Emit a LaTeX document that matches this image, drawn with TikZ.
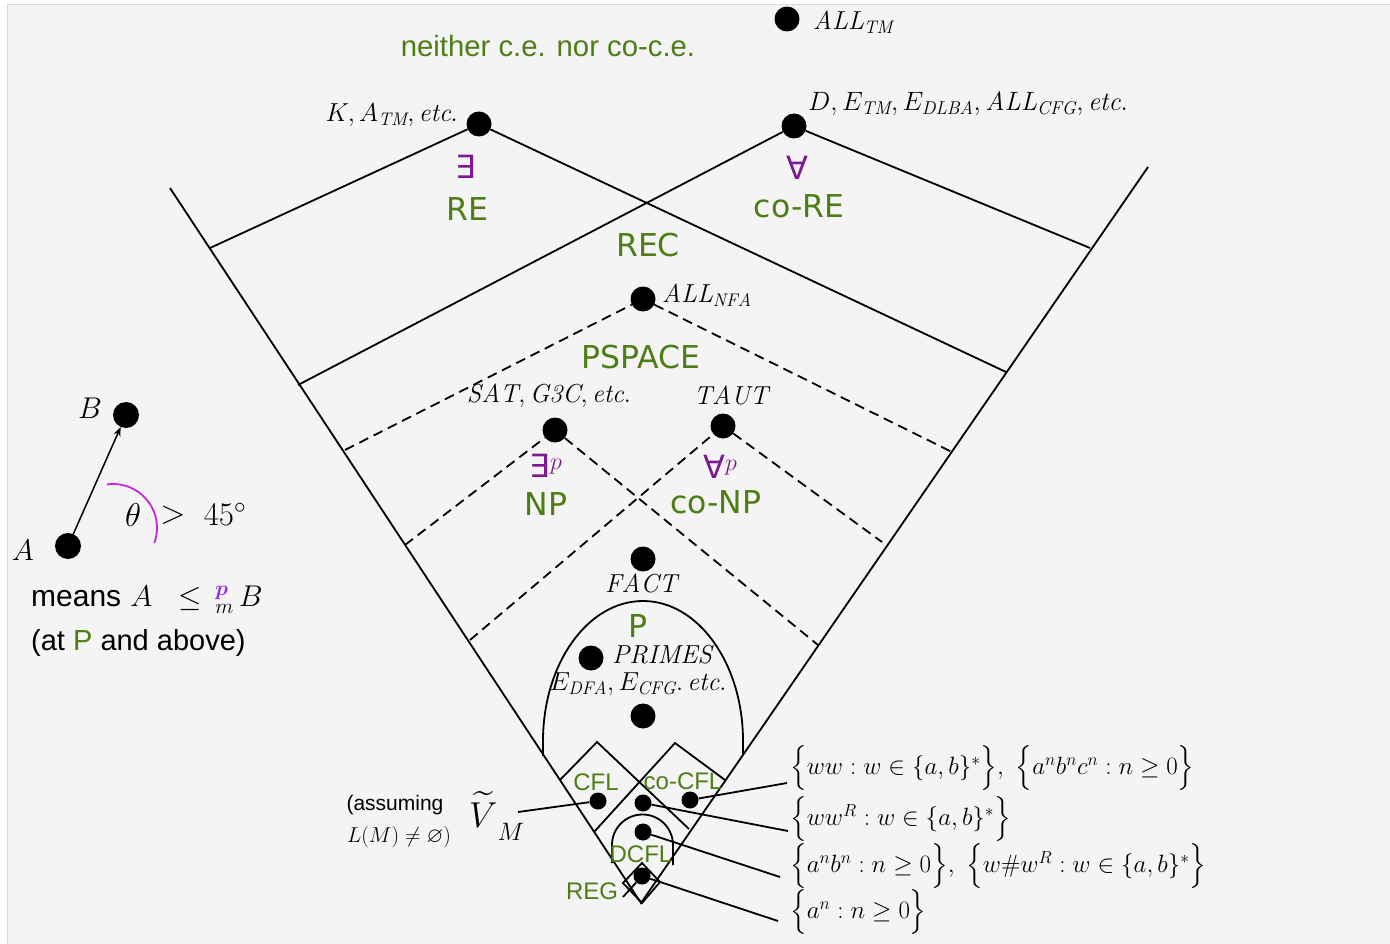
\RequirePackage{fix-cm}
\documentclass[tikz,border=0pt]{standalone}
\usepackage{amsmath}
\usepackage{amssymb}
\usepackage{fontspec}
\newfontfamily\arialf{Liberation Sans}
\newfontfamily\dejaf{DejaVu Sans}
\usetikzlibrary{arrows.meta}
\definecolor{grn}{RGB}{78,125,22}
\definecolor{prp}{RGB}{125,25,145}
\definecolor{mag}{RGB}{200,40,220}
\definecolor{pbl}{RGB}{150,40,240}
\definecolor{bgc}{RGB}{244,244,244}
\tikzset{
 bdot/.style={circle,fill=black,inner sep=0pt,minimum size=25pt},
 sdot/.style={circle,fill=black,inner sep=0pt,minimum size=17pt},
 cls/.style={inner sep=0pt,text=grn,font=\dejaf\fontsize{31.5}{31.5}\selectfont},
 sml/.style={inner sep=0pt,text=grn,font=\arialf\fontsize{24}{24}\selectfont},
 lab/.style={inner sep=0pt,font=\fontsize{26}{26}\selectfont},
 rlab/.style={inner sep=0pt,anchor=west,font=\fontsize{25}{25}\selectfont},
 qnt/.style={inner sep=0pt,text=prp,font=\dejaf\fontsize{32}{32}\selectfont},
 ln/.style={line width=1.8pt},
 dl/.style={ln,dash pattern=on 10pt off 6pt},
}
\begin{document}
\begin{tikzpicture}[x=1pt,y=-1pt]
\useasboundingbox (0,0) rectangle (1390,944);
\fill[bgc] (7,4) rectangle (1390,944);
\draw[black!15,line width=0.8pt] (7,944) -- (7,4) -- (1390,4);

% V boundary
\coordinate (vl) at (170,188);
\coordinate (vr) at (1148,167);
\coordinate (vb) at (641,903);
\draw[ln] (vl) -- (vb) -- (vr);

% top
\node[bdot] (alltm) at (787,19) {};
\node[lab,anchor=west] (alltml) at (813,22) {$\mathit{ALL}_{\mathit{TM}}$};
\node[inner sep=0pt,text=grn,font=\arialf\fontsize{29.3}{29.3}\selectfont] (neither) at (548,46) {neither c.e. nor co-c.e.};

\node[bdot] (K) at (479,124) {};
\node[lab,anchor=east] (Kl) at (458,115) {$K, A_{\mathit{TM}}, \mathit{etc.}$};
\node[bdot] (D) at (794,126) {};
\node[lab,anchor=west,font=\fontsize{26.5}{26.5}\selectfont] (Dl) at (808,104) {$D, E_{\mathit{TM}}, E_{\mathit{DLBA}}, \mathit{ALL}_{\mathit{CFG}}, \mathit{etc.}$};

\coordinate (k1) at (210,248);
\coordinate (k2) at (1006,372);
\coordinate (d1) at (298,385);
\coordinate (d2) at (1090,248);
\draw[ln] (k1) -- (K) -- (k2);
\draw[ln] (d1) -- (D) -- (d2);

\node[qnt] (ex) at (466,167) {∃};
\node[cls] (re) at (467,209) {RE};
\node[qnt] (fa) at (797,168) {∀};
\node[cls] (core) at (799,206) {co-RE};
\node[cls] (rec) at (648,245) {REC};

% PSPACE
\node[bdot] (nfa) at (643,299) {};
\node[lab,anchor=west] (nfal) at (662,295) {$\mathit{ALL}_{\mathit{NFA}}$};
\node[cls] (pspace) at (641,357) {PSPACE};
\coordinate (n1) at (345,450);
\coordinate (n2) at (952,452);
\draw[dl] (n1) -- (nfa) -- (n2);

% NP / coNP
\node[lab] (satl) at (549,396) {$\mathit{SAT}, \mathit{G3C}, \mathit{etc.}$};
\node[bdot] (sat) at (555,430) {};
\node[lab] (tautl) at (731,395) {$\mathit{TAUT}$};
\node[bdot] (taut) at (723,426) {};
\coordinate (s1) at (405,545);
\coordinate (s2) at (818,645);
\coordinate (t1) at (470,640);
\coordinate (t2) at (882,542);
\draw[dl] (s1) -- (sat) -- (s2);
\draw[dl] (t1) -- (taut) -- (t2);
\node[qnt] (exp) at (546,466) {∃\textit{\fontsize{24}{24}\selectfont\raisebox{8pt}{$p$}}};
\node[cls] (np) at (546,504) {NP};
\node[qnt] (fap) at (720,467) {∀\textit{\fontsize{24}{24}\selectfont\raisebox{8pt}{$p$}}};
\node[cls] (conp) at (716,502) {co-NP};

% P
\node[bdot] (fact) at (643,559) {};
\node[lab] (factl) at (641,583) {$\mathit{FACT}$};
\draw[ln] (543,756) -- (543,741) arc[start angle=180,end angle=360,x radius=100,y radius=140] -- (743,754);
\node[cls] (p) at (638,626) {P};
\node[bdot] (primes) at (591,658) {};
\node[lab] (primesl) at (662,655) {$\mathit{PRIMES}$};
\node[lab] (edfal) at (638,684) {$E_{\mathit{DFA}}, E_{\mathit{CFG}}.\,\mathit{etc.}$};
\node[bdot] (edfa) at (643,716) {};

% CFL squares
\coordinate (c1) at (560,780);
\coordinate (ctop) at (597,742);
\coordinate (c2) at (689,829);
\coordinate (cc1) at (594,832);
\coordinate (cctop) at (675,743);
\coordinate (cc2) at (725,780);
\draw[ln] (c1) -- (ctop) -- (c2);
\draw[ln] (cc1) -- (cctop) -- (cc2);
\node[sml] (cfl) at (596,782) {CFL};
\node[sml] (cocfl) at (683,781) {co-CFL};

% DCFL
\draw[ln] (612,863) -- (612,845) arc[start angle=180,end angle=360,radius=30.5] -- (673,865);
\node[sml] (dcfl) at (641,854) {DCFL};
% REG
\draw[ln] (642,863) -- (660,882) -- (642,903) -- (623,883) -- cycle;
\node[sml] (reg) at (592,891) {REG};

% dots
\node[sdot] (dcfld) at (598,801) {};
\node[sdot] (midd) at (643,803) {};
\node[sdot] (cocfld) at (690,800) {};
\node[sdot] (dcd) at (643,832) {};
\node[sdot] (regd) at (642,876) {};

% V_M
\node[inner sep=0pt,anchor=west,font=\fontsize{36}{36}\selectfont] (vt) at (469,816) {$\widetilde{V}\raisebox{-13pt}{$\scriptstyle M$}$};
\node[inner sep=0pt,font=\arialf\fontsize{21}{21}\selectfont] (assum) at (395,805) {(assuming};
\node[inner sep=0pt,font=\fontsize{21.5}{21.5}\selectfont] (lm) at (399,837) {$L(M)\neq\varnothing)$};
\coordinate (vline) at (518,812);
\draw[ln] (vline) -- (dcfld);
\coordinate (rline) at (623,897);
\draw[ln] (rline) -- (regd);

% right labels
\node[rlab] (r1) at (790,768) {$\Bigl\{ww : w \in \{a,b\}^*\Bigr\},\ \Bigl\{a^nb^nc^n : n \geq 0\Bigr\}$};
\node[rlab] (r2) at (790,819) {$\Bigl\{ww^R : w \in \{a,b\}^*\Bigr\}$};
\node[rlab] (r3) at (790,866) {$\Bigl\{a^nb^n : n \geq 0\Bigr\},\ \Bigl\{w\#w^R : w \in \{a,b\}^*\Bigr\}$};
\node[rlab] (r4) at (790,912) {$\Bigl\{a^n : n \geq 0\Bigr\}$};
\coordinate (e1) at (787,783);
\coordinate (e2) at (788,831);
\coordinate (e3) at (780,877);
\coordinate (e4) at (778,921);
\draw[ln] (cocfld) -- (e1);
\draw[ln] (midd) -- (e2);
\draw[ln] (dcd) -- (e3);
\draw[ln] (regd) -- (e4);

% legend
\node[bdot,minimum size=26pt] (A) at (68,546) {};
\node[bdot,minimum size=26pt] (B) at (126,415) {};
\draw[line width=1.5pt,-{Stealth[length=9pt,width=7pt]}] (A) -- (B);
\node[inner sep=0pt,font=\fontsize{30}{30}\selectfont] (Al) at (23,550) {$A$};
\node[inner sep=0pt,font=\fontsize{30}{30}\selectfont] (Bl) at (90,408) {$B$};
\draw[mag,line width=1.8pt] (106.9,484.4) arc[start angle=-98,end angle=20,radius=44];
\node[inner sep=0pt,font=\fontsize{33}{33}\selectfont] (th) at (133,515) {$\theta$};
\node[inner sep=0pt,font=\fontsize{33}{33}\selectfont] (gt) at (173,515) {$>$};
\node[inner sep=0pt,font=\fontsize{33}{33}\selectfont] (deg) at (225,514) {$45^\circ$};
\node[inner sep=0pt,anchor=west,font=\fontsize{30}{30}\selectfont] (means) at (31,599) {{\arialf means} $A\ \ \leq\,\mathstrut^{\textcolor{pbl}{\boldsymbol{p}}}_{m}\,B$};
\node[inner sep=0pt,anchor=west,font=\arialf\fontsize{29}{29}\selectfont] (atp) at (31,643) {(at \textcolor{grn}{P} and above)};
\end{tikzpicture}
\end{document}
